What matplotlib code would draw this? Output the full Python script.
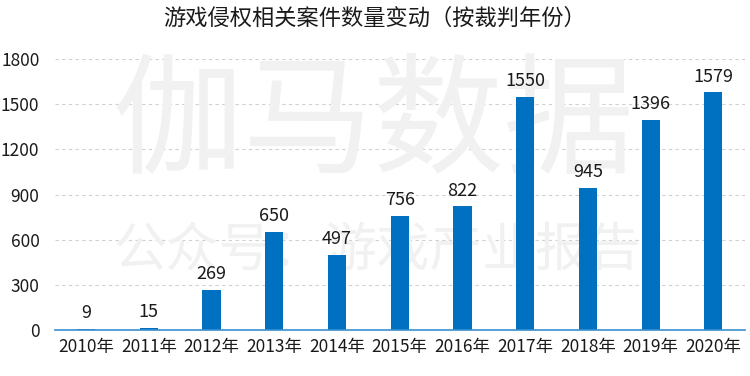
import matplotlib
matplotlib.use("Agg")
from matplotlib import pyplot as plt

plt.rcParams['font.family'] = ['Noto Sans CJK SC', 'DejaVu Sans']

years = ["2010年", "2011年", "2012年", "2013年", "2014年", "2015年",
         "2016年", "2017年", "2018年", "2019年", "2020年"]
cases = [9, 15, 269, 650, 497, 756, 822, 1550, 945, 1396, 1579]
yticks = [0, 300, 600, 900, 1200, 1500, 1800]
title = "游戏侵权相关案件数量变动（按裁判年份）"

fig = plt.figure(figsize=(7.5, 3.76), dpi=100)
ax = fig.add_axes([0.073, 0.122, 0.92, 0.721])

# watermark: over the grid, behind the bars
ax.text(0.497, 0.665, "伽马数据", fontsize=94, color="#f1f1f1", fontweight="medium",
        ha="center", va="center", transform=fig.transFigure, zorder=2)
ax.text(0.503, 0.335, "公众号：游戏产业报告", fontsize=38, color="#f1f1f1",
        ha="center", va="center", transform=fig.transFigure, zorder=2)

x = range(len(years))
ax.bar(x, cases, width=0.29, color="#0070C0", zorder=3)
for xi, v in zip(x, cases):
    ax.text(xi, v + 45, str(v), ha="center", va="bottom", fontsize=13,
            color="#1a1a1a", zorder=5)

ax.set_xlim(-0.5, len(years) - 0.5)
ax.set_ylim(0, 1800)
ax.set_yticks(yticks)
ax.set_yticklabels([str(t) for t in yticks], fontsize=12.5, color="#1a1a1a")
ax.set_xticks(list(x))
ax.set_xticklabels(years, fontsize=12.5, color="#1a1a1a")
ax.tick_params(length=0, pad=6)
ax.tick_params(axis="y", pad=11)

for s in ["top", "right", "left"]:
    ax.spines[s].set_visible(False)
ax.spines["bottom"].set_color("#3a8fd0")
ax.spines["bottom"].set_linewidth(1.2)
ax.spines["bottom"].set_zorder(4)

ax.yaxis.grid(True, linestyle=(0, (3, 3)), color="#d0d0d0", linewidth=0.8)
ax.set_axisbelow(True)

fig.text(0.5, 0.952, title, ha="center", va="center", fontsize=16, color="#1a1a1a")

plt.savefig("out.png")
